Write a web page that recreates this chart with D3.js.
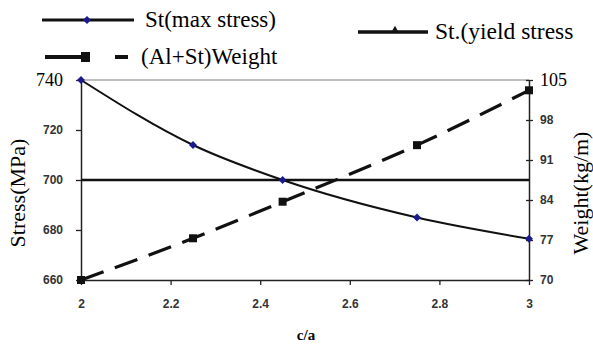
<!DOCTYPE html>
<html>
<head>
<meta charset="utf-8">
<script src="https://cdn.jsdelivr.net/npm/d3@7"></script>
<style>
  body{margin:0;background:#fff;}
</style>
</head>
<body>
<div id="grafico"></div>
<script>
// data
const ratio=[2,2.25,2.45,2.75,3]
const maxStress=[740,714,700,685,676.5]
const yieldStress=[700,700,700,700,700]
const weight=[70,77.3,83.7,93.6,103.2]
const stressTicks=[660,680,700,720,740]
const weightTicks=[70,77,84,91,98,105]
const ratioTicks=[2,2.2,2.4,2.6,2.8,3]

const SERIF="Liberation Serif"
const SANS="Liberation Sans"

const W=593, H=345
const plot={left:81,right:529,top:80,bottom:280}

let svg=d3.select("#grafico")
  .append("svg")
  .attr("width",W)
  .attr("height",H)

//scales
let x=d3.scaleLinear().domain([2,3]).range([plot.left,plot.right])
let yS=d3.scaleLinear().domain([660,740]).range([plot.bottom,plot.top])
let yW=d3.scaleLinear().domain([70,105]).range([plot.bottom,plot.top])

//top border
svg.append("line")
  .attr("x1",plot.left).attr("x2",plot.right)
  .attr("y1",plot.top).attr("y2",plot.top)
  .attr("stroke","#aaa").attr("stroke-width",1.5)

//axes
let styleAxis=(g)=>{
  g.attr("font-family",SANS)
  g.select(".domain").attr("stroke","#222").attr("stroke-width",1.5)
  g.selectAll(".tick line").attr("stroke","#222").attr("stroke-width",1.3)
  g.selectAll(".tick text")
    .attr("font-family",SANS).attr("font-weight","bold")
    .attr("font-size",12).attr("fill","#333")
}
let bigLabel=(sel)=>{
  sel.attr("font-family",SERIF).attr("font-weight","normal")
    .attr("font-size",18).attr("fill","#000")
}

let leftAxis=svg.append("g")
  .attr("transform",`translate(${plot.left},0)`)
  .call(d3.axisLeft(yS).tickValues(stressTicks).tickSize(5).tickSizeOuter(0).tickPadding(13))
  .call(styleAxis)
leftAxis.selectAll(".tick text").filter(d=>d==740).call(bigLabel)

let rightAxis=svg.append("g")
  .attr("transform",`translate(${plot.right},0)`)
  .call(d3.axisRight(yW).tickValues(weightTicks).tickSize(4).tickSizeOuter(0).tickPadding(7))
  .call(styleAxis)
rightAxis.selectAll(".tick line").attr("x1",-3)
rightAxis.selectAll(".tick text").filter(d=>d==105).call(bigLabel)

svg.append("g")
  .attr("transform",`translate(0,${plot.bottom})`)
  .call(d3.axisBottom(x).tickValues(ratioTicks).tickFormat(d3.format("")).tickSize(5).tickSizeOuter(0).tickPadding(14))
  .call(styleAxis)

//lines
let stressLine=d3.line().x((d,i)=>x(ratio[i])).y(d=>yS(d)).curve(d3.curveMonotoneX)
let weightLine=d3.line().x((d,i)=>x(ratio[i])).y(d=>yW(d)).curve(d3.curveMonotoneX)

svg.append("path")
  .datum(yieldStress)
  .attr("d",stressLine)
  .attr("fill","none").attr("stroke","#111").attr("stroke-width",2.5)

svg.append("path")
  .datum(weight)
  .attr("d",weightLine)
  .attr("fill","none").attr("stroke","#111").attr("stroke-width",3.2)
  .attr("stroke-dasharray","24,12")

svg.append("path")
  .datum(maxStress)
  .attr("d",stressLine)
  .attr("fill","none").attr("stroke","#111").attr("stroke-width",2)

//markers
let diamond=d3.symbol().type(d3.symbolDiamond2).size(40)
svg.selectAll(".dia")
  .data(maxStress)
  .enter()
  .append("path")
    .attr("class","dia")
    .attr("d",diamond)
    .attr("transform",(d,i)=>`translate(${x(ratio[i])},${yS(d)})`)
    .attr("fill","#1a1a8c")

svg.selectAll(".sq")
  .data(weight)
  .enter()
  .append("rect")
    .attr("class","sq")
    .attr("x",(d,i)=>x(ratio[i])-4)
    .attr("y",d=>yW(d)-4)
    .attr("width",8).attr("height",8)
    .attr("fill","#111")

//legend
let legend=svg.append("g")
legend.append("line")
  .attr("x1",42).attr("x2",134).attr("y1",20).attr("y2",20)
  .attr("stroke","#111").attr("stroke-width",3)
legend.append("path")
  .attr("d",diamond)
  .attr("transform","translate(87,20)")
  .attr("fill","#1a1a8c")
legend.append("text")
  .attr("x",145).attr("y",27)
  .attr("font-family",SERIF).attr("font-size",23).text("St(max stress)")

legend.append("line")
  .attr("x1",45).attr("x2",128).attr("y1",57).attr("y2",57)
  .attr("stroke","#111").attr("stroke-width",4)
  .attr("stroke-dasharray","45,25")
legend.append("rect")
  .attr("x",81).attr("y",52).attr("width",9).attr("height",10).attr("fill","#111")
legend.append("text")
  .attr("x",141).attr("y",64)
  .attr("font-family",SERIF).attr("font-size",23).text("(Al+St)Weight")

legend.append("line")
  .attr("x1",358).attr("x2",428).attr("y1",32).attr("y2",32)
  .attr("stroke","#111").attr("stroke-width",3.5)
legend.append("path")
  .attr("d",d3.symbol().type(d3.symbolTriangle).size(14))
  .attr("transform","translate(395,29)")
  .attr("fill","#111")
legend.append("text")
  .attr("x",435).attr("y",39)
  .attr("font-family",SERIF).attr("font-size",23.5).text("St.(yield stress")

//axis titles
svg.append("text")
  .attr("transform","translate(25,193) rotate(-90)")
  .attr("text-anchor","middle").attr("font-family",SERIF).attr("font-size",22)
  .text("Stress(MPa)")

svg.append("text")
  .attr("transform","translate(588,193) rotate(-90)")
  .attr("text-anchor","middle").attr("font-family",SERIF).attr("font-size",22)
  .text("Weight(kg/m)")

svg.append("text")
  .attr("x",306).attr("y",340)
  .attr("text-anchor","middle").attr("font-family",SERIF)
  .attr("font-size",15).attr("font-weight","bold")
  .text("c/a")
</script>
</body>
</html>
